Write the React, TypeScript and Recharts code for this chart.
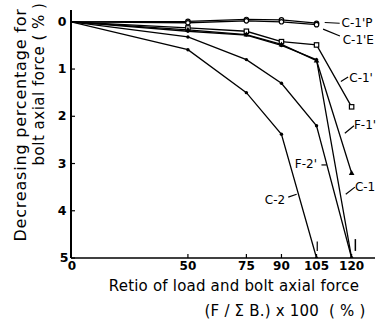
import React from 'react';
import { LineChart, Line, XAxis, YAxis, ReferenceLine, ReferenceDot, Label } from 'recharts';

const xValues = [0, 50, 75, 90, 105, 120];
const xTicks = [0, 50, 75, 90, 105, 120];
const yTicks = [0, 1, 2, 3, 4, 5];

const c1P = [0, -0.01, -0.05, -0.04, 0.03, null];
const c1E = [0, 0.02, -0.02, 0.0, 0.06, null];
const c1p = [0, 0.13, 0.2, 0.42, 0.49, 1.8];
const f1p = [0, 0.17, 0.27, 0.48, 0.82, 3.2];
const c1 = [0, 0.2, 0.28, 0.5, 0.8, 5];
const f2p = [0, 0.32, 0.8, 1.3, 2.2, 5];
const c2 = [0, 0.59, 1.5, 2.38, 5, null];

const seriesNames = ["C-1'P", "C-1'E", "C-1'", "F-1'", 'C-1', "F-2'", 'C-2'];

const data = xValues.map((x, i) => ({
  x,
  c1P: c1P[i],
  c1E: c1E[i],
  c1p: c1p[i],
  f1p: f1p[i],
  c1: c1[i],
  f2p: f2p[i],
  c2: c2[i],
}));

const FONT = '"DejaVu Sans", sans-serif';

const makeDot = (shape: string) => (props: any) => {
  const { cx, cy, index, value } = props;
  if (cx == null || cy == null || index === 0 || value == null) return <g key={`d${index}`} />;
  if (shape === 'circle')
    return <circle key={`d${index}`} cx={cx} cy={cy} r={2.2} fill="#fff" stroke="#000" strokeWidth={1.2} />;
  if (shape === 'square')
    return <rect key={`d${index}`} x={cx - 2.2} y={cy - 2.2} width={4.4} height={4.4} fill="#fff" stroke="#000" strokeWidth={1.2} />;
  if (shape === 'triangle')
    return <path key={`d${index}`} d={`M${cx},${cy - 3}L${cx + 2.8},${cy + 2}L${cx - 2.8},${cy + 2}Z`} fill="#000" />;
  return <circle key={`d${index}`} cx={cx} cy={cy} r={1.7} fill="#000" />;
};

const XTick = (props: any) => {
  const { x, y, payload } = props;
  return (
    <g>
      <line x1={x} x2={x} y1={y} y2={y - 4} stroke="#000" strokeWidth={1.2} />
      <text x={x + (payload.value === 0 ? 1 : 0)} y={y + 12} textAnchor="middle" fontFamily={FONT} fontWeight="bold" fontSize={12} fill="#000">
        {payload.value}
      </text>
    </g>
  );
};

const YTick = (props: any) => {
  const { x, y, payload } = props;
  return (
    <g>
      <line x1={x} x2={x + 4} y1={y} y2={y} stroke="#000" strokeWidth={1.2} />
      <text x={x - (payload.value === 5 ? 7 : 9)} y={y + 4} textAnchor="middle" fontFamily={FONT} fontWeight="bold" fontSize={12.5} fill="#000">
        {payload.value}
      </text>
    </g>
  );
};

const annotations = [
  { name: seriesNames[0], tx: 115.7, ty: 0.03, seg: [108.5, 0.015, 114.9, 0.03] },
  { name: seriesNames[1], tx: 116.2, ty: 0.38, seg: [107.8, 0.155, 115.0, 0.3] },
  { name: seriesNames[2], tx: 119.0, ty: 1.19, seg: [115.4, 1.265, 118.5, 1.17] },
  { name: seriesNames[3], tx: 121.0, ty: 2.18, seg: [117.1, 2.36, 121.0, 2.2] },
  { name: seriesNames[4], tx: 121.4, ty: 3.5, seg: [117.5, 3.65, 121.4, 3.5] },
  { name: seriesNames[5], tx: 95.7, ty: 3.01, seg: [107.1, 3.03, 109.3, 3.03] },
  { name: seriesNames[6], tx: 82.9, ty: 3.77, seg: [92.9, 3.71, 96.5, 3.65] },
];

const series = [
  { key: 'c1P', shape: 'circle' },
  { key: 'c1E', shape: 'circle' },
  { key: 'c1p', shape: 'square' },
  { key: 'f1p', shape: 'triangle' },
  { key: 'c1', shape: 'dot' },
  { key: 'f2p', shape: 'dot' },
  { key: 'c2', shape: 'dot' },
];

export default function App() {
  return (
    <div style={{ position: 'absolute', left: 0, top: 0, width: 377, height: 322, background: '#fff' }}>
      <LineChart width={377} height={322} data={data} margin={{ top: 10, right: 2, left: 0, bottom: 0 }}>
        <XAxis
          dataKey="x"
          type="number"
          domain={[0, 130]}
          ticks={xTicks}
          tickSize={0}
          tickMargin={0}
          tickLine={false}
          tick={<XTick />}
          axisLine={{ stroke: '#000', strokeWidth: 1.6 }}
          height={64}
          allowDataOverflow
        >
          <Label
            content={() => (
              <g>
                <text x={234} y={291} textAnchor="middle" fontFamily={FONT} fontSize={15} letterSpacing={0.2} fill="#000">
                  Retio of load and bolt axial force
                </text>
                <text x={285} y={316} textAnchor="middle" fontFamily={FONT} fontSize={15} letterSpacing={0.2} fill="#000" xmlSpace="preserve">
                  {'(F / Σ B.) x 100  ( % )'}
                </text>
              </g>
            )}
          />
        </XAxis>
        <YAxis
          type="number"
          domain={[-0.25, 5]}
          reversed
          ticks={yTicks}
          width={71}
          tickSize={0}
          tickMargin={0}
          tickLine={false}
          tick={<YTick />}
          axisLine={{ stroke: '#000', strokeWidth: 2 }}
          allowDataOverflow
        >
          <Label
            content={() => (
              <g>
                <text x={26} y={125} transform="rotate(-90 26 125)" textAnchor="middle" fontFamily={FONT} fontSize={16} letterSpacing={0.8} fill="#000">
                  Decreasing percentage for
                </text>
                <text x={44} y={84} transform="rotate(-90 44 84)" textAnchor="middle" fontFamily={FONT} fontSize={15} letterSpacing={0.5} fill="#000">
                  bolt axial force ( % )
                </text>
              </g>
            )}
          />
        </YAxis>
        {series.map((s) => (
          <Line
            key={s.key}
            dataKey={s.key}
            type="linear"
            stroke="#000"
            strokeWidth={1.3}
            dot={makeDot(s.shape)}
            activeDot={false}
            connectNulls={false}
            isAnimationActive={false}
          />
        ))}
        {annotations.map((a) => (
          <ReferenceLine
            key={`seg-${a.name}`}
            segment={[{ x: a.seg[0], y: a.seg[1] }, { x: a.seg[2], y: a.seg[3] }]}
            stroke="#000"
            strokeWidth={1.2}
            ifOverflow="visible"
          />
        ))}
        {annotations.map((a) => (
          <ReferenceDot
            key={`txt-${a.name}`}
            x={a.tx}
            y={a.ty}
            r={0}
            ifOverflow="visible"
            shape={(p: any) => (
              <text x={p.cx} y={p.cy + 4} fontFamily={FONT} fontSize={12} fill="#000">
                {a.name}
              </text>
            )}
          />
        ))}
        <ReferenceLine segment={[{ x: 105.3, y: 4.65 }, { x: 105.3, y: 4.85 }]} stroke="#000" strokeWidth={1.2} ifOverflow="visible" />
        <ReferenceLine segment={[{ x: 121.6, y: 4.6 }, { x: 121.6, y: 4.85 }]} stroke="#000" strokeWidth={1.5} ifOverflow="visible" />
      </LineChart>
    </div>
  );
}
